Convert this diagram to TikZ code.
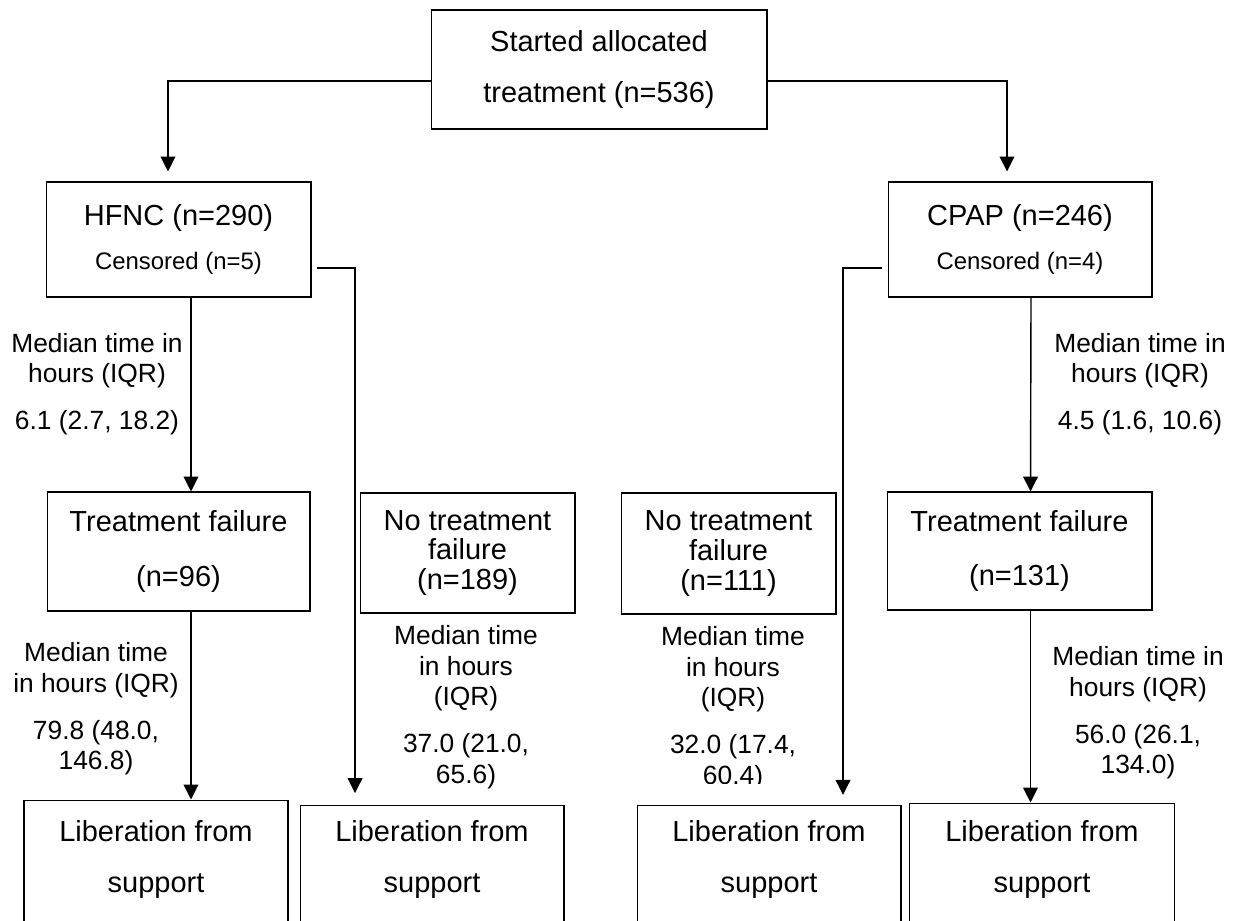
\documentclass[tikz,border=0pt]{standalone}
\usepackage{fontspec}
\setmainfont{Liberation Sans}
\usetikzlibrary{arrows.meta}

\tikzset{
  box/.style={draw, line width=0.6pt, align=center, inner sep=0pt,
    font=\fontsize{16.5}{19}\selectfont},
  note/.style={align=center, inner sep=0pt, font=\fontsize{15}{17.5}\selectfont},
  arr/.style={-{Triangle[length=8.5pt,width=8.4pt]}, line width=0.8pt},
}
\newcommand{\censfont}{\fontsize{13.6}{16}\selectfont}

\begin{document}
\begin{tikzpicture}[x=0.02cm,y=-0.02cm]
\useasboundingbox (0,0) rectangle (1239,920);
\clip (0,0) rectangle (1239,920);

% Top box
\node[box, minimum width=6.72cm, minimum height=2.38cm] (start) at (599,69.5)
  {Started allocated\\[10pt]treatment (n=536)};

% Treatment arms
\node[box, minimum width=5.3cm, minimum height=2.3cm] (hfnc) at (178.5,239.5)
  {HFNC (n=290)\\[6pt]{\censfont Censored (n=5)}};
\node[box, minimum width=5.28cm, minimum height=2.3cm] (cpap) at (1020,239.5)
  {CPAP (n=246)\\[6pt]{\censfont Censored (n=4)}};

% Second row
\node[box, minimum width=5.26cm, minimum height=2.38cm] (tfl) at (178.5,551.5)
  {Treatment failure\\[12pt](n=96)};
\node[box, minimum width=4.3cm, minimum height=2.4cm, font=\fontsize{16.5}{17}\selectfont]
  (ntfl) at (467.5,553) {No treatment\\failure\\(n=189)};
\node[box, minimum width=4.3cm, minimum height=2.42cm, font=\fontsize{16.5}{17}\selectfont]
  (ntfr) at (728.5,553.5) {No treatment\\failure\\(n=111)};
\node[box, minimum width=5.3cm, minimum height=2.36cm] (tfr) at (1019.5,551)
  {Treatment failure\\[12pt](n=131)};

% Bottom row
\node[box, minimum width=5.28cm, minimum height=3.48cm] (lib1) at (156,887)
  {Liberation from\\[10pt]support\\[10pt]\strut};
\node[box, minimum width=5.28cm, minimum height=3.28cm] (lib2) at (432,887)
  {Liberation from\\[10pt]support\\[10pt]\strut};
\node[box, minimum width=5.28cm, minimum height=3.28cm] (lib3) at (769,887)
  {Liberation from\\[10pt]support\\[10pt]\strut};
\node[box, minimum width=5.3cm, minimum height=3.36cm] (lib4) at (1042,887)
  {Liberation from\\[10pt]support\\[10pt]\strut};

% Median times
\node[note] (m1) at (97,384) {Median time in\\hours (IQR)\\[9pt]6.1 (2.7, 18.2)};
\node[note] (m2) at (1140,384) {Median time in\\hours (IQR)\\[9pt]4.5 (1.6, 10.6)};
\node[note] (m3) at (96,709) {Median time\\in hours (IQR)\\[9pt]79.8 (48.0,\\146.8)};
\node[note] (m4) at (466,707) {Median time\\in hours\\(IQR)\\[9pt]37.0 (21.0,\\65.6)};
\begin{scope}
  \clip (600,600) rectangle (860,783);
  \node[note] (m5) at (733,708) {Median time\\in hours\\(IQR)\\[9pt]32.0 (17.4,\\60.4)};
\end{scope}
\node[note] (m6) at (1138,713) {Median time in\\hours (IQR)\\[9pt]56.0 (26.1,\\134.0)};

% Connectors
\draw[arr, shorten >=5.7pt] ([yshift=-0.23cm]start.west) -| ([xshift=-0.21cm]hfnc.north);
\draw[arr, shorten >=5.7pt] ([yshift=-0.23cm]start.east) -| ([xshift=-0.26cm]cpap.north);
\draw[arr] ([xshift=0.25cm]hfnc.south) -- ([xshift=0.25cm]tfl.north);
\draw[arr] ([xshift=0.22cm]cpap.south) -- ([xshift=0.22cm]tfr.north);
\coordinate (d1) at ([xshift=0.25cm]tfl.south);
\draw[arr] (d1) -- (d1 |- lib1.north);
\coordinate (d4) at ([xshift=0.22cm]tfr.south);
\draw[arr] (d4) -- (d4 |- lib4.north);
% censored branches
\coordinate (c1) at ([shift={(0.1cm,-0.57cm)}]hfnc.east);
\draw[arr, shorten >=6.5pt] (c1) -| ([xshift=-1.54cm]lib2.north);
\coordinate (c2) at ([shift={(-0.12cm,-0.57cm)}]cpap.west);
\draw[arr, shorten >=5.5pt] (c2) -| ([xshift=1.48cm]lib3.north);
\end{tikzpicture}
\end{document}
